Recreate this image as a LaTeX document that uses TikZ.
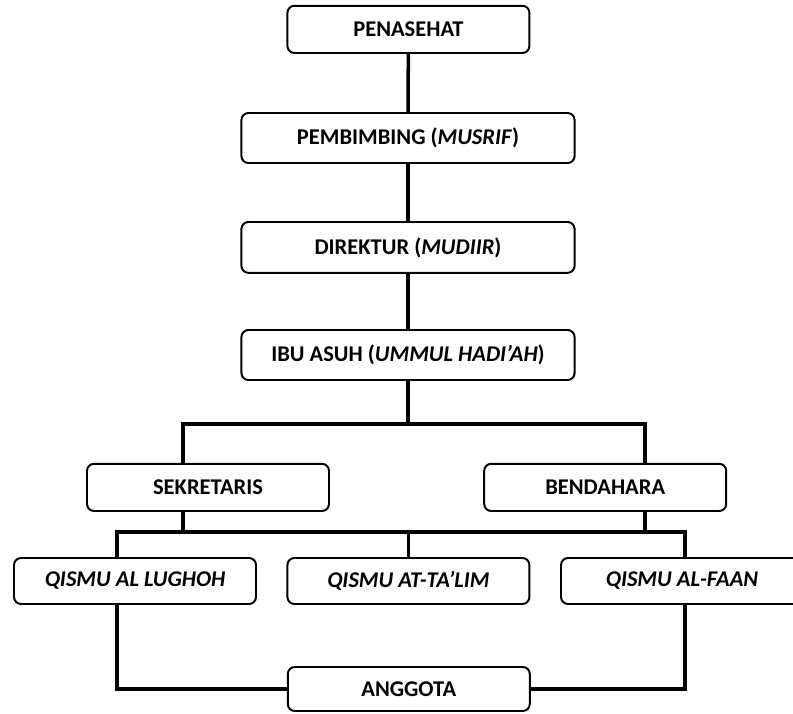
\documentclass[tikz,border=0pt]{standalone}
\usepackage{fontspec}
\setmainfont{Carlito}
\usepackage{tikz}
\usetikzlibrary{positioning, calc}
\tikzset{
  font=\fontsize{16}{19}\selectfont\bfseries,
  role/.style={
    draw=black, fill=white, line width=1.4pt,
    rounded corners=5pt, align=center, inner sep=0pt,
    minimum width=#1, minimum height=1.18cm
  },
  role/.default=6.05cm,
  tie/.style={line width=2.5pt, draw=black}
}
\begin{document}
\begin{tikzpicture}
  \useasboundingbox (0,0) rectangle (19.825,17.825);
  \node[role] (pen) at (10.21,17.09) {PENASEHAT};
  \node[role=8.33cm,minimum height=1.25cm] (pem) at (10.2,14.375) {PEMBIMBING (\textit{MUSRIF})};
  \node[role=8.33cm,minimum height=1.27cm] (dir) at (10.2,11.64) {DIREKTUR (\textit{MUDIIR})};
  \node[role=8.33cm,minimum height=1.25cm] (ibu) at (10.2,8.95) {IBU ASUH (\textit{UMMUL HADI’AH})};
  \draw[tie] (pen) -- (pem); \draw[tie] (pem) -- (dir); \draw[tie] (dir) -- (ibu);
  % sekretaris dan bendahara
  \node[role] (sek) at (5.2,5.64) {SEKRETARIS};
  \node[role] (ben) at (15.13,5.64) {BENDAHARA};
  \coordinate (sa) at (4.575,7.225);
  \coordinate (ba) at (16.125,7.225);
  \draw[tie] (ibu) -- (ibu |- sa);
  \draw[tie] (sek.north -| sa) -- (sa) -- (ba) -- (ben.north -| ba);
  % bagian (qismu)
  \node[role,minimum height=1.15cm] (lug) at (3.375,3.3) {\textit{QISMU AL LUGHOH}};
  \node[role,minimum height=1.15cm] (tal) at (10.21,3.3) {\textit{QISMU AT-TA’LIM}};
  \node[role,minimum height=1.15cm] (faa) at (17.05,3.3) {\textit{QISMU AL-FAAN}};
  \coordinate (lb) at (2.925,4.525);
  \coordinate (fb) at (17.125,4.525);
  \draw[tie] (sek.south -| sa) -- (sa |- lb);
  \draw[tie] (ben.south -| ba) -- (ba |- lb);
  \draw[tie] (lug.north -| lb) -- (lb) -- (fb) -- (faa.north -| fb);
  \draw[tie] (tal) -- (tal |- lb);
  % anggota
  \node[role,minimum height=1.1cm] (ang) at (10.22,0.6) {ANGGOTA};
  \draw[tie] (lug.south -| lb) |- (ang.west);
  \draw[tie] (faa.south -| fb) |- (ang.east);
\end{tikzpicture}
\end{document}
